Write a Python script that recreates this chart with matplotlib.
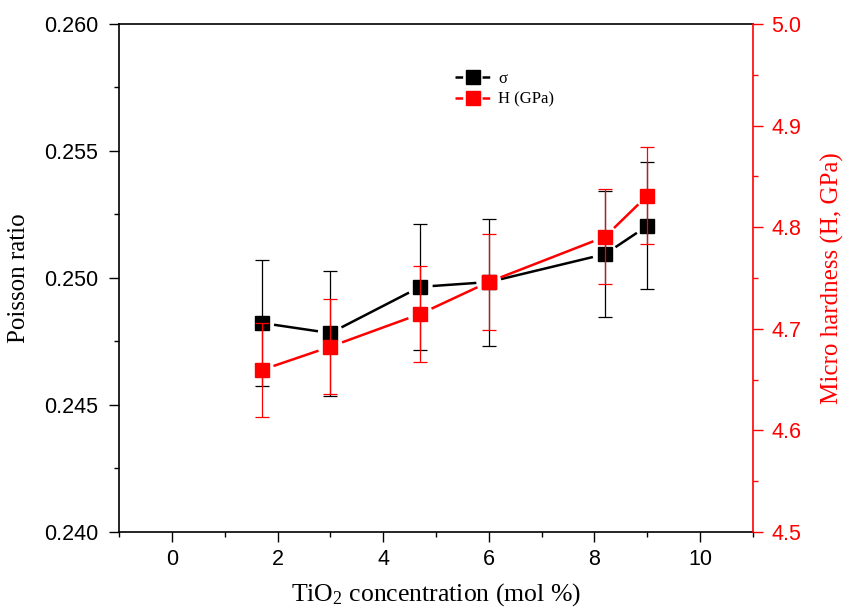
import matplotlib
matplotlib.use("Agg")
import matplotlib.pyplot as plt
import numpy as np
from matplotlib.ticker import MultipleLocator, FormatStrFormatter
from matplotlib.lines import Line2D

# Data
tio2 = [1.7, 3.0, 4.7, 6.0, 8.2, 9.0]
poisson = [0.24823, 0.24783, 0.24965, 0.24984, 0.25094, 0.25205]
poisson_err = [0.00248, 0.00246, 0.00248, 0.00250, 0.00248, 0.00250]
hardness = [4.6594, 4.6824, 4.7146, 4.7461, 4.7906, 4.8310]
hardness_err = [0.046, 0.047, 0.047, 0.047, 0.047, 0.048]

plt.rcParams['mathtext.fontset'] = 'custom'
plt.rcParams['mathtext.rm'] = 'Liberation Serif'
plt.rcParams['mathtext.it'] = 'Liberation Serif:italic'
plt.rcParams['lines.scale_dashes'] = False

serif = 'Liberation Serif'
sans = 'Liberation Sans'
MS = 10.5
GAP_PX = 12.5


def gapped_line(axis, x, y, color):
    """Draw connecting segments that stop short of each marker (Origin style)."""
    T = axis.transData
    pts = T.transform(np.column_stack([x, y]))
    for p0, p1 in zip(pts[:-1], pts[1:]):
        d = p1 - p0
        u = d / np.hypot(*d)
        seg = T.inverted().transform(np.array([p0 + u * GAP_PX, p1 - u * GAP_PX]))
        axis.plot(seg[:, 0], seg[:, 1], color=color, lw=1.8, solid_capstyle='butt',
                  zorder=2)


fig = plt.figure(figsize=(8.43, 6.10), dpi=100)
ax = fig.add_axes([0.1412, 0.1279, 0.7520, 0.8328])
ax.set_xlim(-1, 11)
ax.set_ylim(0.240, 0.260)

ax2 = ax.twinx()
ax2.set_ylim(4.5, 5.0)

# Poisson ratio (left axis)
gapped_line(ax, tio2, poisson, 'black')
ax.plot(tio2, poisson, ls='none', marker='s', ms=MS, mfc='black', mec='black', zorder=3)
ax.errorbar(tio2, poisson, yerr=poisson_err, fmt='none', ecolor='black',
            elinewidth=0.9, capsize=5, capthick=0.9, zorder=4)

# Hardness (right axis)
gapped_line(ax2, tio2, hardness, 'red')
ax2.plot(tio2, hardness, ls='none', marker='s', ms=MS, mfc='red', mec='red', zorder=3)
ax2.errorbar(tio2, hardness, yerr=hardness_err, fmt='none', ecolor='red',
             elinewidth=0.9, capsize=5, capthick=0.9, zorder=4)

# Left / bottom axis styling
ax.xaxis.set_major_locator(MultipleLocator(2))
ax.xaxis.set_minor_locator(MultipleLocator(1))
ax.yaxis.set_major_locator(MultipleLocator(0.005))
ax.yaxis.set_minor_locator(MultipleLocator(0.0025))
ax.yaxis.set_major_formatter(FormatStrFormatter('%.3f'))
ax.tick_params(axis='both', which='major', direction='out', length=7, width=1,
               labelsize=15.5)
ax.tick_params(axis='both', which='minor', direction='out', length=3.6, width=1)
ax.tick_params(axis='x', pad=5)
ax.tick_params(axis='y', pad=8)
for lab in ax.get_xticklabels() + ax.get_yticklabels():
    lab.set_fontfamily(sans)
for s in ['left', 'bottom', 'top']:
    ax.spines[s].set_linewidth(1.2)
ax.spines['right'].set_visible(False)

ax.set_xlabel('TiO$_2$ concentration (mol %)', fontsize=18.5, family=serif, labelpad=8)
ax.set_ylabel('Poisson ratio', fontsize=18, family=serif, labelpad=10)

# Right axis styling
ax2.yaxis.set_major_locator(MultipleLocator(0.1))
ax2.yaxis.set_minor_locator(MultipleLocator(0.05))
ax2.yaxis.set_major_formatter(FormatStrFormatter('%.1f'))
ax2.tick_params(axis='y', which='major', direction='out', length=7, width=1,
                labelsize=15.5, colors='red', pad=6)
ax2.tick_params(axis='y', which='minor', direction='out', length=3.6, width=1,
                colors='red')
for lab in ax2.get_yticklabels():
    lab.set_fontfamily(sans)
ax2.spines['right'].set_color('red')
ax2.spines['right'].set_linewidth(1.2)
ax2.spines['left'].set_visible(False)
ax2.spines['top'].set_visible(False)
ax2.spines['bottom'].set_visible(False)
ax2.set_ylabel('Micro hardness (H, GPa)', fontsize=18, family=serif,
               color='red', labelpad=14)

# Legend
h1 = Line2D([], [], color='black', lw=1.8, dashes=(5.5, 14), marker='s', ms=MS,
            mfc='black', mec='black')
h2 = Line2D([], [], color='red', lw=1.8, dashes=(5.5, 14), marker='s', ms=MS,
            mfc='red', mec='red')
ax2.legend(handles=[h1, h2], labels=['σ', 'H (GPa)'], loc='upper left',
           bbox_to_anchor=(0.52, 0.92), frameon=False,
           prop={'family': serif, 'size': 12}, handlelength=2.08,
           handletextpad=0.5, labelspacing=0.25, borderaxespad=0)

fig.savefig('out.png', dpi=100)
